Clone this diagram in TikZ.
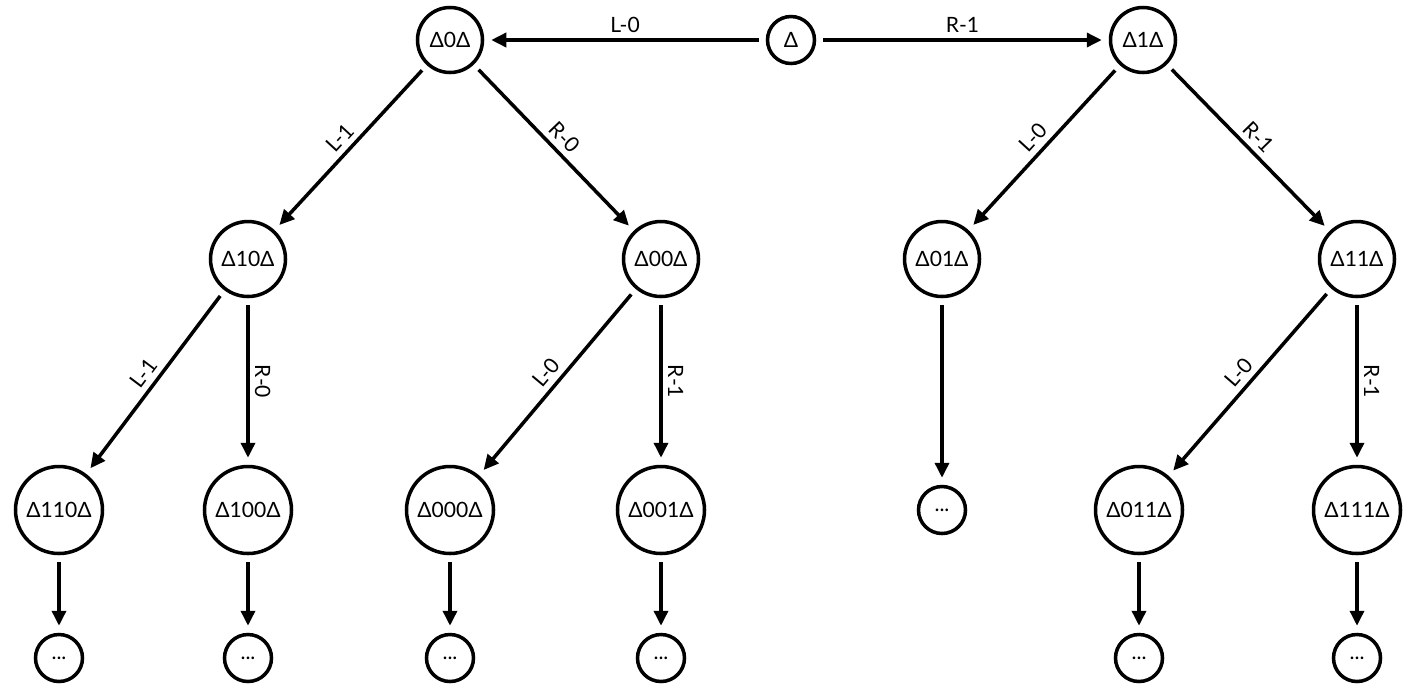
\documentclass[tikz,border=0pt]{standalone}
\usepackage{fontspec}
\setmainfont{Lato}
\usepackage{tikz}
\usetikzlibrary{arrows.meta, positioning}

\begin{document}
\begin{tikzpicture}[
        font=\fontsize{12}{14}\selectfont,
        every node/.style={circle, draw, line width=2pt, inner sep=0pt},
        rootnode/.style={minimum size=0.94cm},
        lvlone/.style={minimum size=1.3cm},
        lvltwo/.style={minimum size=1.5cm},
        lvlthree/.style={minimum size=1.74cm},
        dotnode/.style={minimum size=0.94cm},
        edge/.style={-{Triangle[length=0.3cm,width=0.28cm]}, line width=2pt, shorten <=0.14cm, shorten >=0.14cm},
        lbl/.style={draw=none, circle=false, rectangle, inner sep=3pt, midway, sloped, above}
    ]

        \useasboundingbox (0,0) rectangle (28.34,-13.9);

        % --- 1. Root and first split ---
        \node[rootnode] (root) at (15.82,-0.8) {Δ};
        \node[lvlone] (n0) at (9.0,-0.8) {Δ0Δ};
        \node[lvlone] (n1) at (22.86,-0.8) {Δ1Δ};

        % --- 2. Second level ---
        \node[lvltwo] (n10) at (4.96,-5.18) {Δ10Δ};
        \node[lvltwo] (n00) at (13.22,-5.18) {Δ00Δ};
        \node[lvltwo] (n01) at (18.84,-5.18) {Δ01Δ};
        \node[lvltwo] (n11) at (27.14,-5.18) {Δ11Δ};

        % --- 3. Third level ---
        \node[lvlthree] (n110) at (1.18,-10.2) {Δ110Δ};
        \node[lvlthree] (n100) at (4.96,-10.2) {Δ100Δ};
        \node[lvlthree] (n000) at (9.0,-10.2) {Δ000Δ};
        \node[lvlthree] (n001) at (13.22,-10.2) {Δ001Δ};
        \node[dotnode] (d01) at (18.84,-10.2) {...};
        \node[lvlthree] (n011) at (22.78,-10.2) {Δ011Δ};
        \node[lvlthree] (n111) at (27.14,-10.2) {Δ111Δ};

        % Continuations
        \foreach \p in {n110, n100, n000, n001, n011, n111} {
            \node[dotnode] (d\p) at ([yshift=-2.96cm]\p) {...};
            \draw[edge] (\p) -- (d\p);
        }

        % --- 4. Edges ---
        \draw[edge] (root) -- (n0) node[lbl] {L-0};
        \draw[edge] (root) -- (n1) node[lbl] {R-1};

        \draw[edge] (n0) -- (n10) node[lbl] {L-1};
        \draw[edge] (n0) -- (n00) node[lbl] {R-0};
        \draw[edge] (n1) -- (n01) node[lbl] {L-0};
        \draw[edge] (n1) -- (n11) node[lbl] {R-1};

        \draw[edge] (n10) -- (n110) node[lbl] {L-1};
        \draw[edge] (n10) -- (n100) node[lbl] {R-0};
        \draw[edge] (n00) -- (n000) node[lbl] {L-0};
        \draw[edge] (n00) -- (n001) node[lbl] {R-1};
        \draw[edge] (n01) -- (d01);
        \draw[edge] (n11) -- (n011) node[lbl] {L-0};
        \draw[edge] (n11) -- (n111) node[lbl] {R-1};

    \end{tikzpicture}
\end{document}
